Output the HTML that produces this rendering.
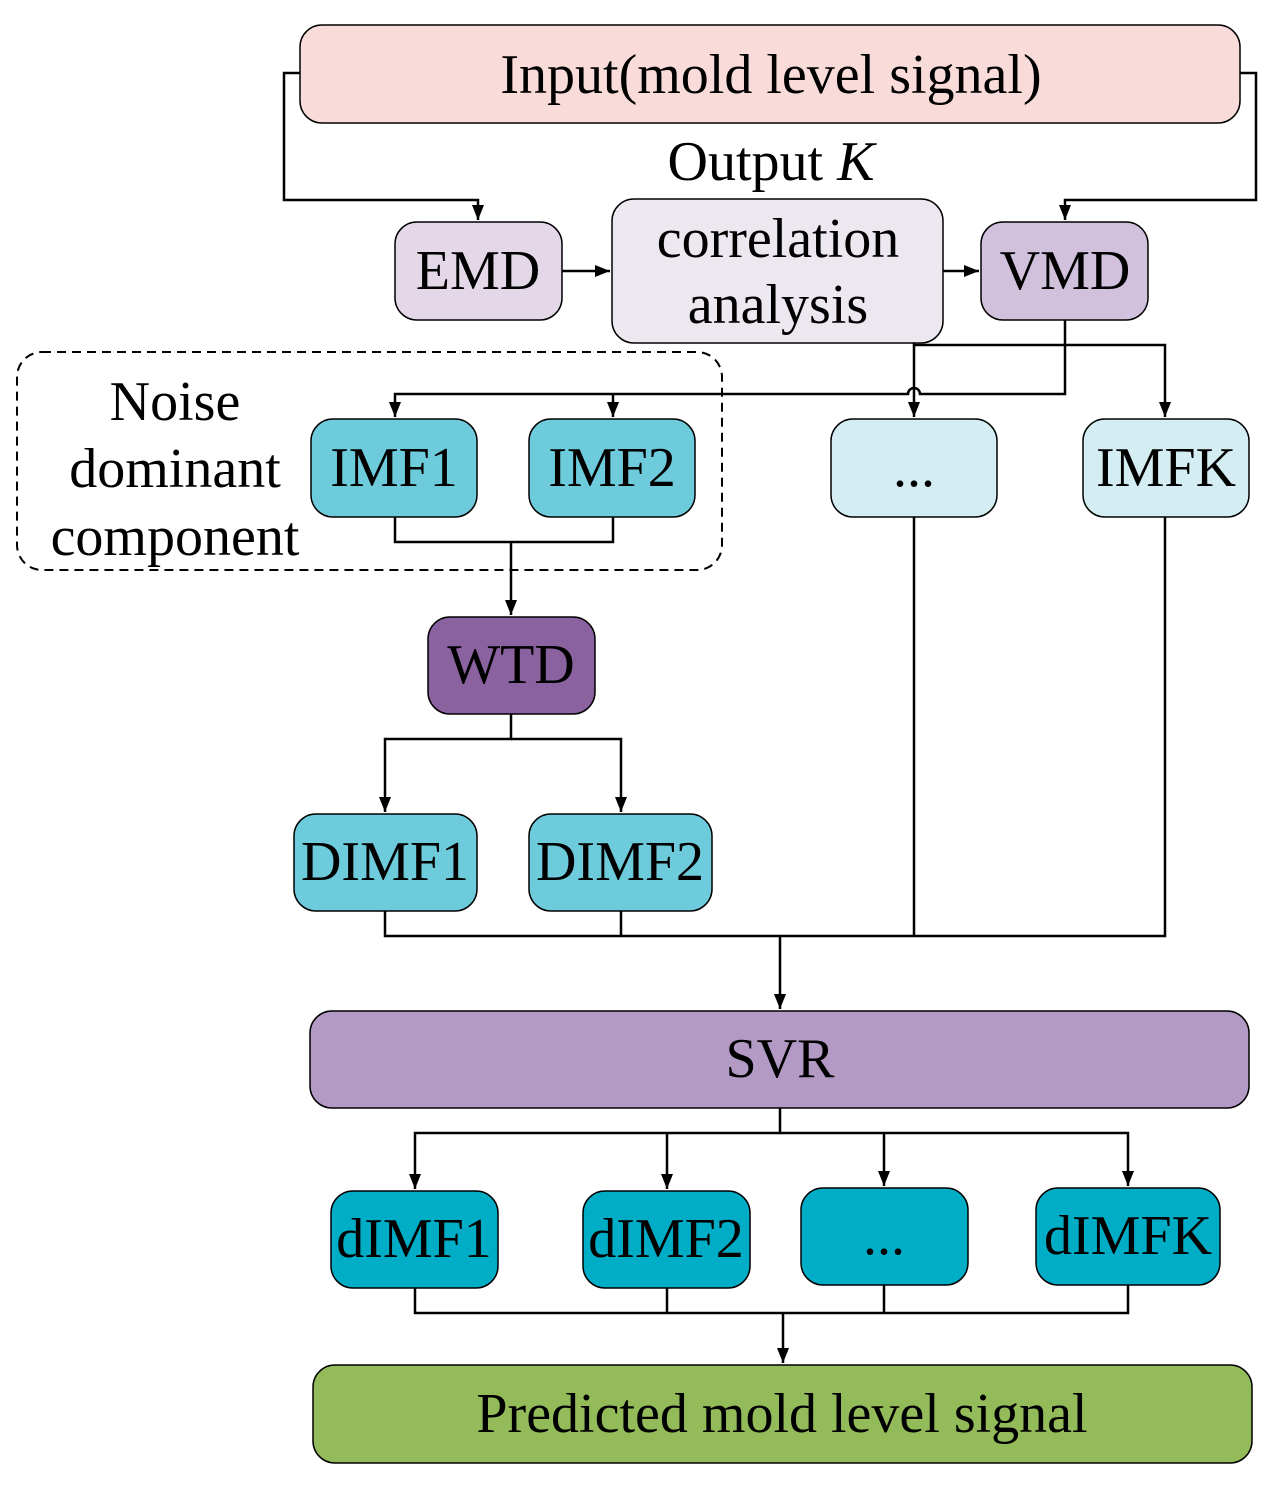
<!DOCTYPE html>
<html><head><style>html,body{margin:0;padding:0;background:#fff}svg{display:block}text{font-family:"Liberation Serif",serif;font-size:56px;fill:#000;text-anchor:middle;dominant-baseline:central}</style></head>
<body>
<svg width="1283" height="1490" viewBox="0 0 1283 1490" xmlns="http://www.w3.org/2000/svg">
<defs><marker id="b" markerWidth="16" markerHeight="16" refX="15" refY="8" orient="auto" markerUnits="userSpaceOnUse"><path d="M0,2 L15,8 L0,14 z" fill="#000"/></marker></defs>
<g stroke="#000" stroke-width="2.5" fill="none">
<rect x="17" y="352" width="705" height="218" rx="25" stroke-dasharray="9,6" stroke-width="2"/>
<path d="M300,73 H284 V200 H478 V220" marker-end="url(#b)"/>
<path d="M1240,73 H1256 V200 H1065 V220" marker-end="url(#b)"/>
<path d="M562,271 H610" marker-end="url(#b)"/>
<path d="M943,271 H979" marker-end="url(#b)"/>
<path d="M914,343 V345 H1165 V417" marker-end="url(#b)"/>
<path d="M1065,320 V394 H920 A6,6 0 0 0 908,394 H395 V417" marker-end="url(#b)"/>
<path d="M613,394 V417" marker-end="url(#b)"/>
<path d="M914,345 V417" marker-end="url(#b)"/>
<path d="M395,517 V542 H613 V517 M511,542 V615" marker-end="url(#b)"/>
<path d="M511,714 V739 H385 V812" marker-end="url(#b)"/>
<path d="M511,739 H621 V812" marker-end="url(#b)"/>
<path d="M385,911 V936 H1165 V517 M621,911 V936 M914,517 V936 M780,936 V1009" marker-end="url(#b)"/>
<path d="M780,1108 V1133 H415 V1189" marker-end="url(#b)"/>
<path d="M667,1133 V1189" marker-end="url(#b)"/>
<path d="M884,1133 V1186" marker-end="url(#b)"/>
<path d="M780,1133 H1128 V1186" marker-end="url(#b)"/>
<path d="M415,1288 V1313 H1128 V1285 M667,1288 V1313 M884,1285 V1313 M783,1313 V1363" marker-end="url(#b)"/>
</g>
<g stroke="#000" stroke-width="1.5">
<rect x="300" y="25" width="940" height="98" rx="22" fill="#f9dcd9"/>
<rect x="395" y="222" width="167" height="98" rx="22" fill="#e3d7e8"/>
<rect x="612" y="199" width="331" height="144" rx="22" fill="#ede8f0"/>
<rect x="981" y="222" width="167" height="98" rx="22" fill="#d1c1dc"/>
<rect x="311" y="419" width="166" height="98" rx="22" fill="#6ecbdb"/>
<rect x="529" y="419" width="166" height="98" rx="22" fill="#6ecbdb"/>
<rect x="831" y="419" width="166" height="98" rx="22" fill="#d3edf2"/>
<rect x="1083" y="419" width="166" height="98" rx="22" fill="#d3edf2"/>
<rect x="428" y="617" width="167" height="97" rx="22" fill="#8a62a0"/>
<rect x="294" y="814" width="183" height="97" rx="22" fill="#6ecbdb"/>
<rect x="529" y="814" width="183" height="97" rx="22" fill="#6ecbdb"/>
<rect x="310" y="1011" width="939" height="97" rx="22" fill="#b39ac4"/>
<rect x="331" y="1191" width="167" height="97" rx="22" fill="#00adc6"/>
<rect x="583" y="1191" width="167" height="97" rx="22" fill="#00adc6"/>
<rect x="801" y="1188" width="167" height="97" rx="22" fill="#00adc6"/>
<rect x="1036" y="1188" width="184" height="97" rx="22" fill="#00adc6"/>
<rect x="313" y="1365" width="939" height="98" rx="22" fill="#93bb59"/>
</g>
<text x="771" y="75">Input(mold level signal)</text>
<text x="771" y="162">Output <tspan font-style="italic">K</tspan></text>
<text x="478" y="271">EMD</text>
<text x="778" y="239">correlation</text>
<text x="778" y="305">analysis</text>
<text x="1065" y="271">VMD</text>
<text x="175" y="402">Noise</text>
<text x="175" y="469">dominant</text>
<text x="175" y="537">component</text>
<text x="394" y="468">IMF1</text>
<text x="612" y="468">IMF2</text>
<text x="914" y="468">...</text>
<text x="1166" y="468">IMFK</text>
<text x="511" y="665">WTD</text>
<text x="385" y="862">DIMF1</text>
<text x="620" y="862">DIMF2</text>
<text x="780" y="1059">SVR</text>
<text x="414" y="1239">dIMF1</text>
<text x="666" y="1239">dIMF2</text>
<text x="884" y="1236">...</text>
<text x="1128" y="1236">dIMFK</text>
<text x="782" y="1414">Predicted mold level signal</text>
</svg>
</body></html>
